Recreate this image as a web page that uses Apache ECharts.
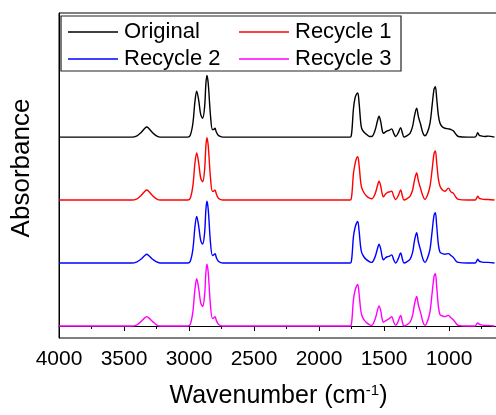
<!DOCTYPE html>
<html>
<head>
<meta charset="utf-8">
<script src="https://cdn.jsdelivr.net/npm/echarts@6/dist/echarts.min.js"></script>
<style>
  html, body { margin: 0; padding: 0; background: #fff; }
  #chart { width: 496px; height: 415px; }
</style>
</head>
<body>
<div id="chart"></div>
<script>
// wavenumber positions (cm-1)
const wavenumber = [
  4000, 3600, 3440, 3400, 3370, 3340, 3325, 3310, 3280, 3250, 3220,
  3010, 2990, 2970, 2955, 2941, 2925, 2910, 2895, 2880, 2870, 2862, 2852, 2835, 2820, 2810, 2800, 2790, 2775, 2760, 2740,
  1760, 1752, 1745, 1735, 1723, 1712, 1702, 1692, 1680, 1672, 1655, 1633, 1610, 1595,
  1570, 1550, 1538, 1525, 1515, 1505, 1490, 1474, 1458, 1441, 1425, 1410, 1390, 1372, 1358, 1346,
  1325, 1300, 1280, 1265, 1249, 1235, 1218, 1200, 1185,
  1165, 1146, 1130, 1115, 1105, 1095, 1082, 1069, 1050, 1031, 1005, 985, 967, 945, 928,
  860, 800, 790, 779, 768, 756, 720, 700, 650,
]

// absorbance above each trace's own baseline
const original = [
  0, 0, 0, 0.02, 0.07, 0.14, 0.16, 0.14, 0.07, 0.02, 0,
  0, 0.03, 0.22, 0.55, 0.73, 0.58, 0.36, 0.30, 0.48, 0.85, 0.98, 0.85, 0.35, 0.12, 0.12, 0.14, 0.08, 0.03, 0.01, 0,
  0, 0.02, 0.15, 0.45, 0.62, 0.68, 0.70, 0.55, 0.25, 0.14, 0.08, 0.04, 0.01, 0.01,
  0.10, 0.26, 0.33, 0.24, 0.12, 0.06, 0.08, 0.10, 0.11, 0.13, 0.06, 0.01, 0.07, 0.15, 0.06, 0,
  0.02, 0.06, 0.17, 0.34, 0.46, 0.32, 0.20, 0.06, 0.02,
  0.08, 0.22, 0.50, 0.76, 0.80, 0.62, 0.35, 0.22, 0.16, 0.14, 0.13, 0.12, 0.10, 0.04, 0.01,
  0, 0, 0.02, 0.07, 0.03, 0.02, 0.01, 0.015, 0,
]
const recycle1 = [
  0, 0, 0, 0.02, 0.07, 0.14, 0.16, 0.14, 0.07, 0.02, 0,
  0, 0.03, 0.23, 0.57, 0.75, 0.58, 0.35, 0.29, 0.48, 0.86, 0.99, 0.86, 0.36, 0.14, 0.14, 0.16, 0.10, 0.03, 0.01, 0,
  0, 0.02, 0.14, 0.42, 0.57, 0.66, 0.69, 0.56, 0.30, 0.20, 0.12, 0.06, 0.03, 0.02,
  0.09, 0.23, 0.30, 0.22, 0.11, 0.05, 0.09, 0.12, 0.13, 0.14, 0.06, 0.01, 0.07, 0.16, 0.06, 0,
  0.02, 0.06, 0.16, 0.32, 0.43, 0.30, 0.18, 0.06, 0.01,
  0.08, 0.22, 0.48, 0.74, 0.78, 0.60, 0.34, 0.22, 0.16, 0.14, 0.19, 0.13, 0.11, 0.04, 0.01,
  0, 0, 0.02, 0.06, 0.03, 0.02, 0.01, 0.01, 0,
]
const recycle2 = [
  0, 0, 0, 0.02, 0.06, 0.12, 0.14, 0.12, 0.06, 0.02, 0,
  0, 0.03, 0.22, 0.56, 0.74, 0.58, 0.36, 0.30, 0.48, 0.85, 0.98, 0.85, 0.33, 0.12, 0.13, 0.15, 0.09, 0.03, 0.01, 0,
  0, 0.02, 0.14, 0.42, 0.56, 0.63, 0.66, 0.52, 0.26, 0.17, 0.10, 0.05, 0.02, 0.01,
  0.09, 0.23, 0.30, 0.22, 0.11, 0.05, 0.08, 0.10, 0.11, 0.13, 0.05, 0, 0.07, 0.16, 0.06, 0,
  0.02, 0.06, 0.17, 0.36, 0.48, 0.33, 0.20, 0.06, 0.01,
  0.08, 0.22, 0.50, 0.76, 0.80, 0.60, 0.30, 0.17, 0.15, 0.14, 0.15, 0.12, 0.09, 0.03, 0.01,
  0, 0, 0.02, 0.06, 0.03, 0.02, 0.01, 0.01, 0,
]
const recycle3 = [
  0, 0, 0, 0.02, 0.07, 0.13, 0.15, 0.13, 0.07, 0.02, 0,
  0, 0.03, 0.23, 0.57, 0.75, 0.59, 0.37, 0.31, 0.49, 0.85, 0.98, 0.85, 0.33, 0.12, 0.13, 0.15, 0.09, 0.03, 0.01, 0,
  0, 0.02, 0.14, 0.42, 0.56, 0.63, 0.66, 0.52, 0.27, 0.18, 0.10, 0.05, 0.02, 0.01,
  0.10, 0.25, 0.32, 0.24, 0.12, 0.06, 0.08, 0.10, 0.12, 0.15, 0.06, 0.01, 0.08, 0.17, 0.06, 0,
  0.02, 0.06, 0.17, 0.35, 0.47, 0.33, 0.21, 0.06, 0.01,
  0.08, 0.23, 0.52, 0.79, 0.83, 0.63, 0.32, 0.18, 0.16, 0.15, 0.17, 0.13, 0.10, 0.04, 0.01,
  0, 0, 0.02, 0.05, 0.03, 0.02, 0.01, 0.01, 0,
]

const seriesNames = ['Original', 'Recycle 1', 'Recycle 2', 'Recycle 3']
const seriesValues = [original, recycle1, recycle2, recycle3]
const seriesOffsets = [3, 2, 1, 0]
const seriesColors = ['#000000', '#ff0000', '#0000ff', '#ff00ff']

const font = '"Liberation Sans", Arial, sans-serif'

const chart = echarts.init(document.getElementById('chart'), null, { renderer: 'canvas' })

const series = seriesNames.map((name, k) => ({
  name,
  type: 'line',
  smooth: 0.35,
  symbol: 'none',
  lineStyle: { color: seriesColors[k], width: 1.4 },
  itemStyle: { color: seriesColors[k] },
  data: wavenumber.map((w, i) => [w, seriesValues[k][i] + seriesOffsets[k]]),
}))

const legendCommon = {
  orient: 'vertical',
  top: 21,
  padding: 0,
  itemGap: 5,
  itemWidth: 50,
  itemHeight: 1.5,
  icon: 'rect',
  textStyle: { fontFamily: font, fontSize: 22, color: '#000', padding: [0, 0, 0, 1] },
}

chart.setOption({
  animation: false,
  grid: {
    left: 59,
    right: -18,
    top: 13,
    bottom: 77,
    outerBoundsMode: 'none',
    containLabel: false,
    show: true,
    borderColor: '#000',
    borderWidth: 1,
  },
  legend: [
    { ...legendCommon, left: 68, data: ['Original', 'Recycle 2'] },
    { ...legendCommon, left: 239, data: ['Recycle 1', 'Recycle 3'] },
  ],
  graphic: [
    {
      type: 'rect',
      z: 100,
      shape: { x: 61, y: 16, width: 340, height: 55 },
      style: { fill: 'none', stroke: '#222', lineWidth: 1.2 },
    },
  ],
  xAxis: {
    type: 'value',
    inverse: true,
    min: 500,
    max: 4000,
    interval: 500,
    name: 'Wavenumber (cm{sup|-1})',
    nameLocation: 'middle',
    nameGap: 45,
    nameTextStyle: {
      fontFamily: font,
      fontSize: 25,
      color: '#000',
      padding: [0, 16, 0, 0],
      rich: {
        sup: { fontFamily: font, fontSize: 15, color: '#000', verticalAlign: 'top', padding: [0, 0, 12, 0] },
      },
    },
    axisLine: { show: true, lineStyle: { color: '#000', width: 1 } },
    axisTick: { show: true, length: 5, lineStyle: { color: '#000', width: 1 } },
    minorTick: { show: true, splitNumber: 2, length: 3, lineStyle: { color: '#000', width: 1 } },
    axisLabel: {
      fontFamily: font,
      fontSize: 21,
      color: '#000',
      margin: 11,
      formatter: (v) => String(v),
    },
    splitLine: { show: false },
    minorSplitLine: { show: false },
  },
  yAxis: {
    type: 'value',
    min: -0.19,
    max: 4.97,
    name: 'Absorbance',
    nameLocation: 'middle',
    nameGap: 24,
    nameTextStyle: { fontFamily: font, fontSize: 26, color: '#000', padding: [0, 0, 0, 15] },
    axisLine: { show: true, lineStyle: { color: '#000', width: 1 } },
    axisTick: { show: false },
    axisLabel: { show: false },
    splitLine: { show: false },
  },
  series,
})
</script>
</body>
</html>
